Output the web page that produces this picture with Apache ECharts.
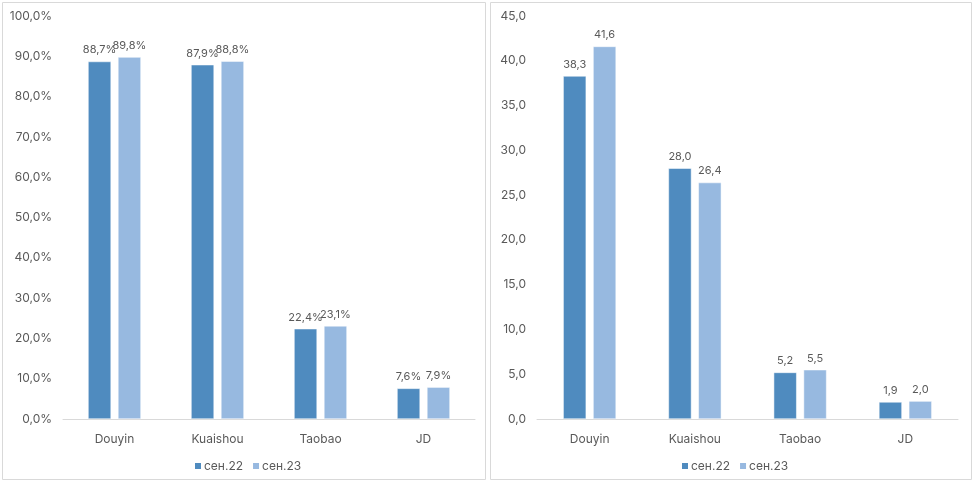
<!DOCTYPE html>
<html><head><meta charset="utf-8">
<script src="https://cdn.jsdelivr.net/npm/echarts@6/dist/echarts.min.js"></script>
<style>html,body{margin:0;padding:0;background:#fff}#c{width:974px;height:483px}</style>
</head><body><div id="c"></div>
<script>
const categories = ['Douyin','Kuaishou','Taobao','JD'];
const seriesNames = ['сен.22','сен.23'];
const shareSep22 = [88.7, 87.9, 22.4, 7.6];
const shareSep23 = [89.8, 88.8, 23.1, 7.9];
const valueSep22 = [38.3, 28.0, 5.2, 1.9];
const valueSep23 = [41.6, 26.4, 5.5, 2.0];
const colors = ['#4f8bbf', '#97b9e0'];
const txt = '#595959';
const font = 'Inter, "Noto Sans", sans-serif';
const fmt = v => v.toFixed(1).replace('.', ',');

const chart = echarts.init(document.getElementById('c'), null, {renderer:'canvas'});
function xAx(gi){
  return {type:'category', gridIndex:gi, data:categories,
    axisLine:{lineStyle:{color:'#d9d9d9'}}, axisTick:{show:false},
    axisLabel:{color:txt, fontSize:12, fontFamily:font, margin:14}};
}
function yAx(gi, max, interval, pct){
  return {type:'value', gridIndex:gi, min:0, max:max, interval:interval,
    splitLine:{show:false}, axisLine:{show:false}, axisTick:{show:false},
    axisLabel:{color:txt, fontSize:12, fontFamily:font, margin:11,
      formatter: v => fmt(v) + (pct ? '%' : '')}};
}
function bar(name, data, gi, ci, pct){
  return {type:'bar', name:name, xAxisIndex:gi, yAxisIndex:gi, data:data,
    barWidth:23, barGap:'30%',
    itemStyle:{color:colors[ci], borderColor:'#fff', borderWidth:0.5},
    label:{show:true, position:'top', distance:6, color:txt, fontSize:11, fontFamily:font,
      formatter: p => fmt(p.value) + (pct ? '%' : '')}};
}
const legendBase = {data:seriesNames, top:455,
  textStyle:{color:txt, fontSize:12, fontFamily:font, padding:[0,0,0,-3]},
  itemWidth:8, itemHeight:8, itemGap:8, icon:'rect', selectedMode:false};
chart.setOption({
  animation:false,
  graphic:[
    {type:'rect', shape:{x:2.5,y:2.5,width:483,height:477}, style:{fill:'none', stroke:'#d9d9d9', lineWidth:1}},
    {type:'rect', shape:{x:490.5,y:2.5,width:481,height:477}, style:{fill:'none', stroke:'#d9d9d9', lineWidth:1}}
  ],
  grid:[
    {left:63, right:499, top:16, bottom:64},
    {left:537, right:16, top:16, bottom:64}
  ],
  legend:[
    Object.assign({left:188}, legendBase),
    Object.assign({left:675}, legendBase)
  ],
  xAxis:[xAx(0), xAx(1)],
  yAxis:[yAx(0,100,10,true), yAx(1,45,5,false)],
  series:[
    bar(seriesNames[0], shareSep22, 0, 0, true),
    bar(seriesNames[1], shareSep23, 0, 1, true),
    bar(seriesNames[0], valueSep22, 1, 0, false),
    bar(seriesNames[1], valueSep23, 1, 1, false)
  ]
});
</script></body></html>
